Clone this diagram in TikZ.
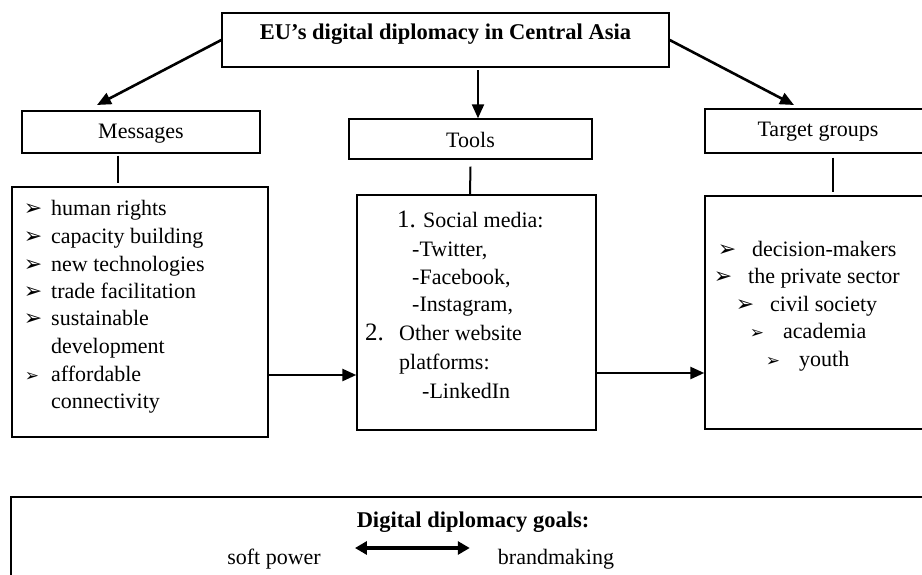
\documentclass[tikz,border=0pt]{standalone}
\usepackage{fontspec}
\setmainfont{Liberation Serif}
\newfontfamily\symfont{DejaVu Sans}
\usetikzlibrary{arrows.meta,calc}

\begin{document}
\begin{tikzpicture}[x=1pt,y=-1pt,
  box/.style={draw,line width=1.4pt,rectangle,inner sep=0pt},
  txt/.style={anchor=base west,inner sep=0pt,font=\fontsize{22}{26}\selectfont},
  ctxt/.style={anchor=base,inner sep=0pt,font=\fontsize{22}{26}\selectfont},
  btxt/.style={anchor=base,inner sep=0pt,font=\fontsize{22.5}{26}\selectfont\bfseries},
  num/.style={anchor=base west,inner sep=0pt,font=\fontsize{25}{28}\selectfont},
  bul/.style={anchor=base,inner sep=0pt,font=\symfont\fontsize{22}{22}\selectfont},
  sbul/.style={anchor=base,inner sep=0pt,font=\symfont\fontsize{17}{17}\selectfont},
  arr/.style={line width=2.6pt,-{Triangle[length=14pt,width=12pt]}},
  darr/.style={line width=3.6pt,{Triangle[length=12pt,width=13pt]}-{Triangle[length=12pt,width=13pt]}},
  link/.style={line width=2pt},
]
\useasboundingbox[fill=white] (0,0) rectangle (922,574);

% headline box
\node[box,minimum width=447pt,minimum height=54pt] (top) at (445.5,40) {};
\node[btxt] (toptx) at (445.5,39.5) {EU’s digital diplomacy in Central Asia};

% three column headers
\node[box,minimum width=238pt,minimum height=42pt] (msg) at (141,132) {};
\node[ctxt] (msgtx) at (141,138) {Messages};
\node[box,minimum width=243pt,minimum height=40pt] (tools) at (470.5,139) {};
\node[ctxt] (toolstx) at (470.5,147) {Tools};
\node[box,minimum width=226pt,minimum height=44pt] (tg) at (818,131) {};
\node[ctxt] (tgtx) at (818,136.5) {Target groups};

% three column bodies
\node[box,minimum width=256pt,minimum height=250pt] (msglist) at (140,312) {};
\node[box,minimum width=239pt,minimum height=235pt] (toolslist) at (476.5,312.5) {};
\node[box,minimum width=255pt,minimum height=233pt] (tglist) at (832.5,312.5) {};

% goals box
\node[box,minimum width=924pt,minimum height=110pt] (goals) at (473,552) {};
\node[btxt] (goalstx) at (473,527.5) {Digital diplomacy goals:};
\node[ctxt] (soft) at (274,564) {soft power};
\node[ctxt] (brand) at (556,564) {brandmaking};

% messages
\node[bul] (mb1) at (33,215) {➢};
\node[txt] (mt1) at (51,215) {human rights};
\node[bul] (mb2) at (33,243) {➢};
\node[txt] (mt2) at (51,243) {capacity building};
\node[bul] (mb3) at (33,271) {➢};
\node[txt] (mt3) at (51,271) {new technologies};
\node[bul] (mb4) at (33,298) {➢};
\node[txt] (mt4) at (51,298) {trade facilitation};
\node[bul] (mb5) at (33,325) {➢};
\node[txt] (mt5) at (51,325) {sustainable};
\node[txt] (mt6) at (51,353) {development};
\node[sbul] (mb7) at (32,381) {➢};
\node[txt] (mt7) at (51,381) {affordable};
\node[txt] (mt8) at (51,408) {connectivity};

% tools
\node[num] (tn1) at (397,227) {1.};
\node[txt] (tt1) at (423,227) {Social media:};
\node[txt] (tt2) at (412,256) {-Twitter,};
\node[txt] (tt3) at (412,284) {-Facebook,};
\node[txt] (tt4) at (412,311) {-Instagram,};
\node[num] (tn2) at (365,340) {2.};
\node[txt] (tt5) at (399,340) {Other website};
\node[txt] (tt6) at (399,369) {platforms:};
\node[txt] (tt7) at (422,398) {-LinkedIn};

% target groups
\node[bul] (gb1) at (727,256) {➢};
\node[txt] (gt1) at (752,256) {decision-makers};
\node[bul] (gb2) at (723,283) {➢};
\node[txt] (gt2) at (748,283) {the private sector};
\node[bul] (gb3) at (745,311) {➢};
\node[txt] (gt3) at (770,311) {civil society};
\node[sbul] (gb4) at (757,338) {➢};
\node[txt] (gt4) at (783,338) {academia};
\node[sbul] (gb5) at (773,366) {➢};
\node[txt] (gt5) at (799,366) {youth};

% connectors
\coordinate (msgTip) at (97,105);
\coordinate (tgTip) at (794,105);
\coordinate (midStart) at (478,70);
\coordinate (flowA) at (0,375);
\coordinate (flowB) at (0,373);
\coordinate (goalLine) at (0,548);

\draw[arr] (top.west) -- (msgTip);
\draw[arr] (top.east) -- (tgTip);
\draw[arr,line width=2.2pt] (midStart) -- (midStart |- tools.north);

\draw[link] ($(msg.south)+(-23,2)$) -- ($(msglist.north)+(-22,-3)$);
\draw[link] ($(tools.south)+(0,7)$) -- ($(toolslist.north)+(-6.5,0)$);
\draw[link] ($(tg.south)+(15,4)$) -- ($(tglist.north)+(0.5,-3)$);

\draw[arr] (msglist.east |- flowA) -- (toolslist.west |- flowA);
\draw[arr] (toolslist.east |- flowB) -- (tglist.west |- flowB);

\draw[darr] ($(soft.east |- goalLine)+(34,0)$) -- ($(brand.west |- goalLine)+(-28,0)$);
\end{tikzpicture}
\end{document}
